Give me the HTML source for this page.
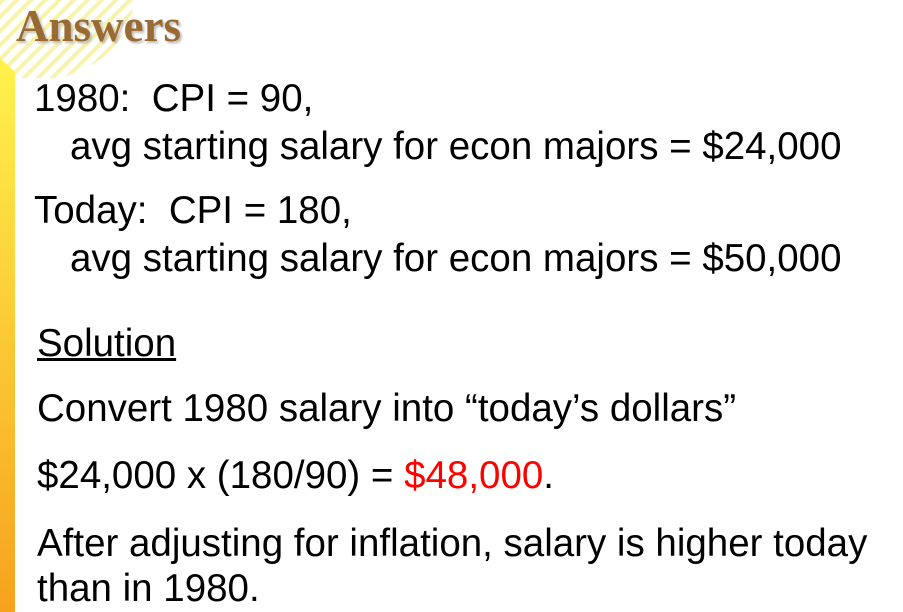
<!DOCTYPE html>
<html><head><meta charset="utf-8"><style>
body{margin:0;width:903px;height:612px;overflow:hidden;background:#fff;position:relative;font-family:"Liberation Sans",Arial,sans-serif}
.t{position:absolute;font-size:38.5px;color:#000;white-space:nowrap;line-height:1}
</style></head><body>
<svg width="903" height="612" style="position:absolute;left:0;top:0">
<defs><pattern id="h" width="10" height="10" patternUnits="userSpaceOnUse" patternTransform="rotate(45)"><rect width="4" height="10" fill="#f7f3a8"/></pattern>
<linearGradient id="g" x1="0" y1="0" x2="0" y2="1"><stop offset="0" stop-color="#fff24d"/><stop offset="1" stop-color="#f7a21d"/></linearGradient></defs>
<path d="M0,0 L135,0 Q125,60 60,78 L15,78 L0,60 Z" fill="url(#h)"/>
<path d="M0,58 L15,72 L15,612 L0,612 Z" fill="url(#g)"/>
</svg>
<div style="position:absolute;left:16px;top:0px;font-family:'Liberation Serif',serif;font-weight:bold;font-size:45px;color:#9a6a33;text-shadow:2px 2px 2px #bbb">Answers</div>
<div class="t" style="left:34px;top:80px">1980:&nbsp; CPI = 90,</div>
<div class="t" style="left:70px;top:128px">avg starting salary for econ majors = $24,000</div>
<div class="t" style="left:34px;top:192px">Today:&nbsp; CPI = 180,</div>
<div class="t" style="left:70px;top:240px">avg starting salary for econ majors = $50,000</div>
<div class="t" style="left:37px;top:325px;text-decoration:underline">Solution</div>
<div class="t" style="left:37px;top:390px">Convert 1980 salary into “today’s dollars”</div>
<div class="t" style="left:37px;top:457px">$24,000 x (180/90) = <span style="color:#f00">$48,000</span>.</div>
<div class="t" style="left:37px;top:525px">After adjusting for inflation, salary is higher today</div>
<div class="t" style="left:37px;top:570px">than in 1980.</div>
</body></html>
